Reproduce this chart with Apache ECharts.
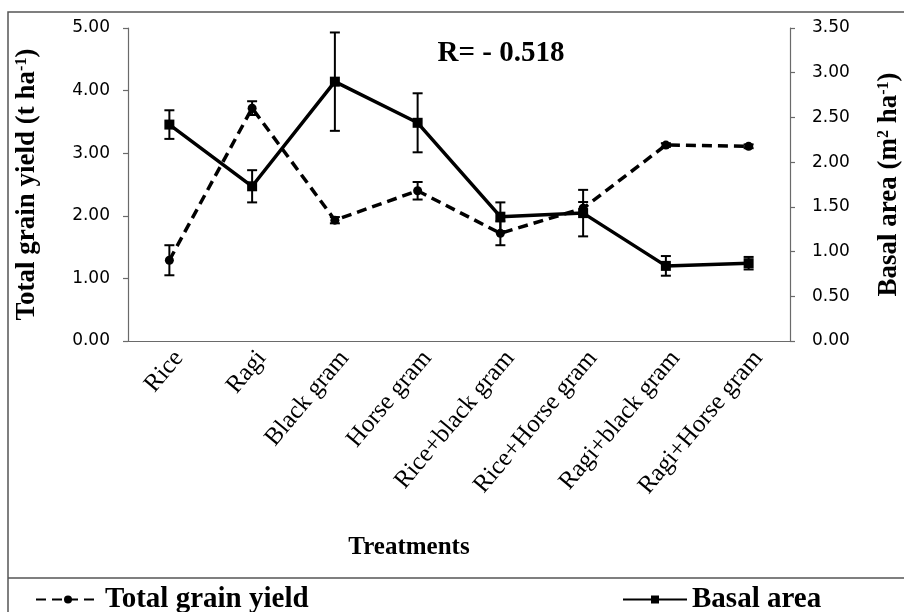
<!DOCTYPE html>
<html>
<head>
<meta charset="utf-8">
<script src="https://cdn.jsdelivr.net/npm/echarts@6/dist/echarts.min.js"></script>
<style>
html,body{margin:0;padding:0;background:#fff;}
#chart{width:904px;height:612px;}
</style>
</head>
<body>
<div id="chart"></div>
<script>
const categories = ['Rice','Ragi','Black gram','Horse gram','Rice+black gram','Rice+Horse gram','Ragi+black gram','Ragi+Horse gram'];
const grainYield = [1.29, 3.72, 1.93, 2.40, 1.72, 2.12, 3.13, 3.11];
const grainErr   = [0.24, 0.11, 0.05, 0.14, 0.19, 0.10, 0.03, 0.03];
const basalArea  = [2.42, 1.73, 2.90, 2.44, 1.39, 1.43, 0.84, 0.87];
const basalErr   = [0.16, 0.18, 0.55, 0.33, 0.16, 0.26, 0.11, 0.07];
const leftTicks  = [0, 1, 2, 3, 4, 5];
const rightTicks = [0, 0.5, 1, 1.5, 2, 2.5, 3, 3.5];

const SERIF = '"Liberation Serif","Times New Roman",serif';
const SANS = '"DejaVu Sans",Verdana,sans-serif';
const AX = '#6a6a6a';

function errData(vals, errs){ return vals.map((v,i)=>[i, v-errs[i], v+errs[i]]); }
function errRender(params, api){
  const x = api.value(0);
  const p1 = api.coord([x, api.value(1)]);
  const p2 = api.coord([x, api.value(2)]);
  const w = 5;
  const st = {stroke:'#000', lineWidth:2};
  return {type:'group', children:[
    {type:'line', shape:{x1:p1[0],y1:p1[1],x2:p2[0],y2:p2[1]}, style:st},
    {type:'line', shape:{x1:p1[0]-w,y1:p1[1],x2:p1[0]+w,y2:p1[1]}, style:st},
    {type:'line', shape:{x1:p2[0]-w,y1:p2[1],x2:p2[0]+w,y2:p2[1]}, style:st}
  ]};
}

const chart = echarts.init(document.getElementById('chart'));
chart.setOption({
  animation:false,
  backgroundColor:'#fff',
  grid:{left:128, right:114, top:28, bottom:271, containLabel:false, outerBoundsMode:'none'},
  graphic:[
    {type:'rect', shape:{x:8, y:12, width:910, height:640}, style:{fill:'none', stroke:'#555', lineWidth:1.5}, silent:true},
    {type:'line', shape:{x1:8, y1:578, x2:904, y2:578}, style:{stroke:'#555', lineWidth:1.5}, silent:true},
    {type:'text', x:501, y:54, style:{text:'R= - 0.518', font:'bold 29px '+SERIF, fill:'#000', textAlign:'center', textVerticalAlign:'middle'}},
    {type:'text', x:409, y:548, style:{text:'Treatments', font:'bold 25px '+SERIF, fill:'#000', textAlign:'center', textVerticalAlign:'middle'}}
  ],
  legend:[
    {data:['Total grain yield'], left:30, top:580, itemWidth:64, itemHeight:10, itemGap:5,
     textStyle:{fontFamily:SERIF, fontWeight:'bold', fontSize:29, color:'#000'}},
    {data:['Basal area'], left:617, top:580, itemWidth:64, itemHeight:10, itemGap:5,
     textStyle:{fontFamily:SERIF, fontWeight:'bold', fontSize:29, color:'#000'}}
  ],
  xAxis:{
    type:'category', data:categories, boundaryGap:true,
    axisLine:{lineStyle:{color:AX, width:1.2}},
    axisTick:{length:7, lineStyle:{color:AX, width:1.2}},
    axisLabel:{rotate:50, margin:5, verticalAlign:'top', fontFamily:SERIF, fontSize:25, color:'#000', interval:0}
  },
  yAxis:[
    {type:'value', min:0, max:5, interval:1, position:'left',
     name:'Total grain yield (t ha{sup|-1})', nameLocation:'middle', nameRotate:90, nameGap:87,
     nameTextStyle:{fontFamily:SERIF, fontWeight:'bold', fontSize:27, color:'#000',
       rich:{sup:{fontFamily:SERIF, fontWeight:'bold', fontSize:16, color:'#000', verticalAlign:'top', padding:[0,0,10,0]}}},
     axisLine:{show:true, lineStyle:{color:AX, width:1.2}},
     axisTick:{show:true, length:5, lineStyle:{color:AX, width:1.2}},
     splitLine:{show:false},
     axisLabel:{margin:18, fontFamily:SANS, fontSize:17, color:'#000', formatter:v=>v.toFixed(2)}
    },
    {type:'value', min:0, max:3.5, interval:0.5, position:'right',
     name:'Basal area (m{sup|2} ha{sup|-1})', nameLocation:'middle', nameRotate:90, nameGap:86,
     nameTextStyle:{fontFamily:SERIF, fontWeight:'bold', fontSize:27, color:'#000',
       rich:{sup:{fontFamily:SERIF, fontWeight:'bold', fontSize:16, color:'#000', verticalAlign:'top', padding:[0,0,10,0]}}},
     axisLine:{show:true, lineStyle:{color:AX, width:1.2}},
     axisTick:{show:true, length:5, lineStyle:{color:AX, width:1.2}},
     splitLine:{show:false},
     axisLabel:{margin:22, fontFamily:SANS, fontSize:17, color:'#000', formatter:v=>v.toFixed(2)}
    }
  ],
  series:[
    {type:'custom', name:'grainErr', yAxisIndex:0, renderItem:errRender, data:errData(grainYield, grainErr), encode:{x:0, y:[1,2]}, z:3},
    {type:'custom', name:'basalErr', yAxisIndex:1, renderItem:errRender, data:errData(basalArea, basalErr), encode:{x:0, y:[1,2]}, z:3},
    {type:'line', name:'Total grain yield', yAxisIndex:0, data:grainYield, symbol:'circle', symbolSize:9,
     lineStyle:{color:'#000', width:3.5, type:[10,6]}, itemStyle:{color:'#000'}, z:4},
    {type:'line', name:'Basal area', yAxisIndex:1, data:basalArea, symbol:'rect', symbolSize:10,
     lineStyle:{color:'#000', width:3.5, type:'solid'}, itemStyle:{color:'#000'}, z:5}
  ]
});
</script>
</body>
</html>
